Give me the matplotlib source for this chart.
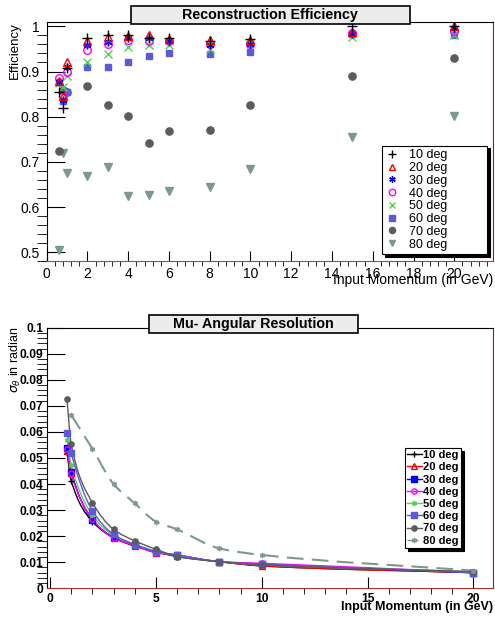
import numpy as np
import matplotlib
matplotlib.use('Agg')
import matplotlib.pyplot as plt
from matplotlib.ticker import MultipleLocator
from matplotlib.path import Path
from matplotlib.patches import PathPatch, Rectangle
from matplotlib.lines import Line2D

plt.rcParams['font.family'] = ['Liberation Sans', 'DejaVu Sans']

labels = ['10 deg', '20 deg', '30 deg', '40 deg', '50 deg', '60 deg', '70 deg', '80 deg']

# efficiency vs momentum
p_eff = [0.6, 0.8, 1, 2, 3, 4, 5, 6, 8, 10, 15, 20]
eff_10 = [0.854, 0.820, 0.907, 0.974, 0.980, 0.981, 0.975, 0.975, 0.968, 0.971, 1.000, 1.000]
eff_20 = [0.879, 0.846, 0.920, 0.967, 0.977, 0.978, 0.980, 0.972, 0.969, 0.970, 0.988, 1.000]
eff_30 = [0.877, 0.838, 0.910, 0.958, 0.965, 0.974, 0.975, 0.967, 0.958, 0.961, 0.983, 0.996]
eff_40 = [0.885, 0.845, 0.900, 0.947, 0.961, 0.969, 0.967, 0.968, 0.961, 0.961, 0.985, 0.989]
eff_50 = [0.875, 0.865, 0.889, 0.922, 0.938, 0.954, 0.958, 0.958, 0.949, 0.960, 0.977, 0.980]
eff_60 = [0.877, 0.835, 0.854, 0.910, 0.911, 0.922, 0.935, 0.941, 0.939, 0.944, 0.982, 0.980]
eff_70 = [0.724, 0.860, 0.855, 0.869, 0.826, 0.802, 0.742, 0.769, 0.770, 0.826, 0.889, 0.930]
eff_80 = [0.505, 0.720, 0.676, 0.668, 0.688, 0.624, 0.626, 0.636, 0.645, 0.684, 0.755, 0.801]

# angular resolution vs momentum
p_res = [0.8, 1, 2, 3, 4, 5, 6, 8, 10, 20]
p_res_80 = [1, 2, 3, 4, 5, 6, 8, 10, 20]
res_10 = [0.0520, 0.0413, 0.0256, 0.0194, 0.0162, 0.0141, 0.0122, 0.0102, 0.0086, 0.0060]
res_20 = [0.0527, 0.0441, 0.0265, 0.0194, 0.0164, 0.0137, 0.0125, 0.0102, 0.0086, 0.0060]
res_30 = [0.0540, 0.0448, 0.0262, 0.0196, 0.0165, 0.0139, 0.0127, 0.0102, 0.0092, 0.0060]
res_40 = [0.0533, 0.0441, 0.0265, 0.0194, 0.0164, 0.0137, 0.0128, 0.0102, 0.0096, 0.0061]
res_50 = [0.0570, 0.0473, 0.0281, 0.0203, 0.0169, 0.0143, 0.0125, 0.0102, 0.0090, 0.0064]
res_60 = [0.0595, 0.0518, 0.0298, 0.0207, 0.0168, 0.0141, 0.0128, 0.0102, 0.0093, 0.0060]
res_70 = [0.0725, 0.0552, 0.0329, 0.0226, 0.0182, 0.0150, 0.0122, 0.0102, 0.0090, 0.0064]
res_80 = [0.0665, 0.0535, 0.0400, 0.0326, 0.0256, 0.0226, 0.0153, 0.0128, 0.0068]

colors = ['black', 'red', 'blue', 'magenta', '#55d055', '#5b5bd9', '#5c5c5c', '#7c9a8a']
asterisk = (6, 2, 0)
eff_markers = ['+', '^', asterisk, 'o', 'x', 's', 'o', 'v']
eff_filled = [True, False, True, False, True, True, True, True]
res_markers = ['+', '^', 's', 'o', asterisk, 's', 'o', asterisk]
res_filled = [True, False, True, False, True, True, True, True]


def smooth_path(x, y):
    # cubic curve through the points (like ROOT "C" draw option)
    x = np.asarray(x, float)
    y = np.asarray(y, float)
    h = np.diff(x)
    d = np.diff(y) / h
    m = np.zeros_like(x)
    m[0], m[-1] = d[0], d[-1]
    for i in range(1, len(x) - 1):
        if d[i - 1] * d[i] <= 0:
            m[i] = 0
        else:
            w1 = 2 * h[i] + h[i - 1]
            w2 = h[i] + 2 * h[i - 1]
            m[i] = (w1 + w2) / (w1 / d[i - 1] + w2 / d[i])
    verts = [(x[0], y[0])]
    codes = [Path.MOVETO]
    for i in range(len(x) - 1):
        verts += [(x[i] + h[i] / 3, y[i] + m[i] * h[i] / 3),
                  (x[i + 1] - h[i] / 3, y[i + 1] - m[i + 1] * h[i] / 3),
                  (x[i + 1], y[i + 1])]
        codes += [Path.CURVE4] * 3
    return Path(verts, codes)


fig = plt.figure(figsize=(4.95, 6.19), dpi=100)

# ---------------- top: efficiency ----------------
ax1 = fig.add_axes([0.0943, 0.578, 0.9017, 0.386])
effs = [eff_10, eff_20, eff_30, eff_40, eff_50, eff_60, eff_70, eff_80]
sizes = [6.5, 5.5, 5.5, 5.5, 5.5, 4.8, 5.2, 5.2]
handles = []
for i in range(7, -1, -1):
    mfc = colors[i] if eff_filled[i] else 'none'
    h, = ax1.plot(p_eff, effs[i], linestyle='none', marker=eff_markers[i], color=colors[i],
                  markerfacecolor=mfc, markersize=sizes[i], markeredgewidth=1.0, label=labels[i])
    handles.insert(0, h)
ax1.set_xlim(0, 21.9)
ax1.set_ylim(0.48, 1.009)
ax1.xaxis.set_major_locator(MultipleLocator(2))
ax1.xaxis.set_minor_locator(MultipleLocator(0.4))
ax1.yaxis.set_minor_locator(MultipleLocator(0.02))
ax1.set_yticks([0.5, 0.6, 0.7, 0.8, 0.9, 1.0])
ax1.set_yticklabels(['0.5', '0.6', '0.7', '0.8', '0.9', '1'])
ax1.tick_params(axis='both', direction='in', labelsize=10, colors='black')
ax1.tick_params(axis='y', which='major', length=13, pad=5)
ax1.tick_params(axis='y', which='minor', length=7)
ax1.tick_params(axis='x', which='major', length=7, pad=4)
ax1.tick_params(axis='x', which='minor', length=3.5)
ax1.spines['right'].set_color('#8b2020')
ax1.spines['bottom'].set_color('#b04040')
leg1 = ax1.legend(handles=handles, loc='lower left', bbox_to_anchor=(0.752, 0.029, 0.235, 0.469),
                  mode='expand', fontsize=9, frameon=True, fancybox=False, borderpad=0.3,
                  labelspacing=0.06, handlelength=1.0, handletextpad=0.8, markerscale=0.85,
                  borderaxespad=0, shadow={'color': 'black', 'alpha': 1, 'ox': 2, 'oy': -2})
leg1.get_frame().set_edgecolor('black')
leg1.get_frame().set_linewidth(0.8)

fig.text(15 / 495, 1 - 22 / 619, 'Efficiency', rotation=90, ha='center', va='top', fontsize=9.5)
fig.text(493 / 495, 1 - 280 / 619, 'Input Momentum (in GeV)', ha='right', va='center', fontsize=10)

# ---------------- bottom: resolution ----------------
ax2 = fig.add_axes([0.0943, 0.0496, 0.9023, 0.421])
ress = [res_10, res_20, res_30, res_40, res_50, res_60, res_70, res_80]
handles2 = []
for i in range(8):
    xs = p_res_80 if i == 7 else p_res
    ls = (0, (8, 4)) if i == 7 else '-'
    lw = 1.5 if i == 7 else 1.0
    patch = PathPatch(smooth_path(xs, ress[i]), facecolor='none', edgecolor=colors[i],
                      linewidth=lw, linestyle=ls)
    ax2.add_patch(patch)
    mfc = colors[i] if res_filled[i] else 'none'
    ax2.plot(xs, ress[i], linestyle='none', marker=res_markers[i], color=colors[i],
             markerfacecolor=mfc, markersize=3.8, markeredgewidth=1.0)
    handles2.append(Line2D([], [], color=colors[i], linestyle=ls, linewidth=1.0,
                           marker=res_markers[i], markerfacecolor=mfc, markersize=3.8,
                           label=labels[i]))
ax2.set_xlim(-0.16, 20.94)
ax2.set_ylim(0, 0.1)
ax2.xaxis.set_major_locator(MultipleLocator(5))
ax2.xaxis.set_minor_locator(MultipleLocator(1))
ax2.yaxis.set_minor_locator(MultipleLocator(0.002))
ax2.set_yticks(np.arange(0, 0.1001, 0.01))
ax2.set_yticklabels(['0', '0.01', '0.02', '0.03', '0.04', '0.05', '0.06', '0.07', '0.08', '0.09', '0.1'])
ax2.tick_params(axis='both', direction='in', labelsize=8.7)
ax2.tick_params(axis='y', which='major', length=13, pad=2.5)
ax2.tick_params(axis='y', which='minor', length=7)
ax2.tick_params(axis='x', which='major', length=8, pad=3.5)
ax2.tick_params(axis='x', which='minor', length=4)
for lab in ax2.get_xticklabels() + ax2.get_yticklabels():
    lab.set_fontweight('bold')
ax2.spines['right'].set_color('#8b2020')
ax2.spines['bottom'].set_color('#b03030')
leg2 = ax2.legend(handles=handles2, loc='lower left', bbox_to_anchor=(0.802, 0.155),
                  prop={'size': 8, 'weight': 'bold'}, frameon=True, fancybox=False,
                  borderpad=0.2, labelspacing=0.2, handlelength=1.3, handletextpad=0.15,
                  borderaxespad=0, shadow={'color': 'black', 'alpha': 1, 'ox': 2, 'oy': -2})
leg2.get_frame().set_edgecolor('black')
leg2.get_frame().set_linewidth(0.8)

fig.text(15 / 495, 1 - 327 / 619, r'$\sigma_{\theta}$ in radian', rotation=90,
         ha='center', va='top', fontsize=9)
fig.text(493 / 495, 1 - 607 / 619, 'Input Momentum (in GeV)', ha='right', va='center',
         fontsize=9, fontweight='bold')

# title boxes
for (x0, x1, y0, y1, txt) in [(130.7, 410, 6, 24, 'Reconstruction Efficiency'),
                              (149, 358, 315, 333, 'Mu- Angular Resolution')]:
    fig.patches.append(Rectangle((x0 / 495, 1 - y1 / 619), (x1 - x0) / 495, (y1 - y0) / 619,
                                 transform=fig.transFigure, facecolor='#ececec',
                                 edgecolor='black', linewidth=1.2, zorder=5))
    fig.text((x0 + x1) / 2 / 495, 1 - (y0 + y1) / 2 / 619, txt, ha='center', va='center',
             fontsize=10.3, fontweight='bold', zorder=6)

plt.savefig('out.png', dpi=100)
